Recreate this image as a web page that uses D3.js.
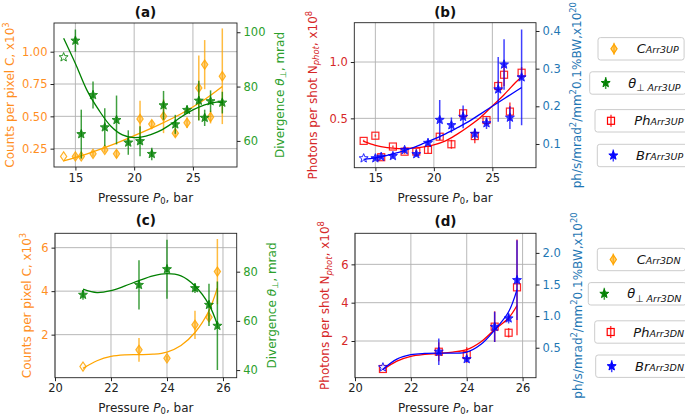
<!DOCTYPE html>
<html><head><meta charset="utf-8">
<script src="https://cdn.jsdelivr.net/npm/d3@7"></script>
<style>body{margin:0;background:#fff} svg{display:block;font-family:"DejaVu Sans",sans-serif}</style>
</head><body><svg id="c" width="685" height="416"></svg>
<script>
// ---------------- DATA ----------------
// Panel (a): Arr3UP, counts (left) and divergence (right)
const aOrangeX = [14, 15, 15.5, 16.5, 17.5, 18.5, 20.5, 21.5, 22.5, 23.5, 24.5, 25.5, 26, 26.5, 27.5];
const aOrangeY = [0.19, 0.19, 0.19, 0.21, 0.24, 0.21, 0.48, 0.44, 0.50, 0.37, 0.45, 0.72, 0.90, 0.495, 0.81];
const aOrangeE = [0.015, 0.015, 0.015, 0.02, 0.02, 0.03, 0.14, 0.03, 0.13, 0.03, 0.04, 0.25, 0.19, 0.05, 0.37];
const aGreenX = [14, 15, 15.5, 16.5, 17.5, 18.5, 19.5, 20.5, 21.5, 22.5, 23.5, 24.5, 25.5, 26, 26.5, 27.5];
const aGreenY = [90.8, 96.9, 62.5, 76.9, 65.0, 67.7, 59.4, 59.9, 55.2, 73.1, 66.1, 71.4, 74.8, 68.5, 74.6, 74.1];
const aGreenE = [0, 4.1, 9, 5, 7, 9, 4.5, 5.5, 2.3, 5.3, 3.5, 1.5, 7.3, 3, 4, 4];
const aFitOrangeX = [14, 16, 18, 20, 22, 24, 26, 27.5];
const aFitOrangeY = [0.155, 0.21, 0.275, 0.35, 0.43, 0.52, 0.63, 0.73];
const aFitGreenX = [14, 15, 16, 17, 18, 19, 20, 21, 22, 23, 24, 25, 26, 27, 27.5];
const aFitGreenY = [97.8, 88.5, 78.5, 71.3, 65.5, 62.2, 61.2, 61.8, 63.3, 65.8, 68.8, 71.4, 73.3, 74.3, 74.2];

// Panel (b): Arr3UP, photons (left) and brilliance (right)
const bX = [14, 15, 15.5, 16.5, 17.5, 18.5, 19.5, 20.5, 21.5, 22.5, 23.5, 24.5, 25.5, 26, 26.5, 27.5];
const bRedY = [0.30, 0.346, 0.155, 0.25, 0.204, 0.205, 0.22, 0.337, 0.27, 0.545, 0.343, 0.485, 0.787, 0.887, 0.56, 0.905];
const bRedE = [0.01, 0.01, 0.01, 0.01, 0.02, 0.02, 0.03, 0.03, 0.04, 0.03, 0.065, 0.02, 0.05, 0.1, 0.08, 0.05];
const bBlueY = [0.062, 0.062, 0.066, 0.068, 0.084, 0.073, 0.103, 0.164, 0.150, 0.172, 0.127, 0.155, 0.245, 0.311, 0.170, 0.277];
const bBlueE = [0, 0.003, 0.004, 0.004, 0.006, 0.006, 0.006, 0.053, 0.02, 0.03, 0.015, 0.015, 0.086, 0.067, 0.03, 0.127];
const bFitX = [14, 15, 16, 17, 18, 19, 20, 21, 22, 23, 24, 25, 26, 27, 27.5];
const bFitRedY = [0.295, 0.26, 0.24, 0.232, 0.235, 0.245, 0.265, 0.30, 0.36, 0.43, 0.51, 0.61, 0.71, 0.82, 0.87];
const bFitBlueY = [0.059, 0.063, 0.07, 0.078, 0.088, 0.1, 0.113, 0.127, 0.143, 0.16, 0.18, 0.2, 0.22, 0.24, 0.25];

// Panel (c): Arr3DN, counts (left) and divergence (right)
const cdX = [21, 23, 24, 25, 25.5, 25.8];
const cOrangeY = [0.53, 1.30, 0.915, 2.45, 2.8, 4.9];
const cOrangeE = [0.05, 0.55, 0.1, 0.65, 0.12, 1.5];
const cGreenY = [70.6, 74.6, 81.0, 73.3, 66.5, 58.0];
const cGreenE = [2, 10, 12, 2, 8.6, 18];
const cdFitX = [21, 21.5, 22, 22.5, 23, 23.5, 24, 24.5, 25, 25.5, 25.8];
const cFitOrangeY = [0.45, 0.8, 1.0, 1.07, 1.08, 1.1, 1.2, 1.5, 2.1, 3.1, 4.15];
const cFitGreenY = [72.9, 71.5, 72.3, 74.2, 76.4, 78.3, 79.2, 78.3, 74.2, 66.6, 58.4];

// Panel (d): Arr3DN, photons (left) and brilliance (right)
const dRedY = [0.54, 1.44, 1.27, 2.75, 2.43, 4.8];
const dRedE = [0.05, 0.5, 0.4, 0.8, 0.25, 2.5];
const dBlueY = [0.19, 0.437, 0.32, 0.83, 0.964, 1.57];
const dBlueE = [0.03, 0.21, 0.05, 0.24, 0.08, 0.63];
const dFitRedY = [0.5, 0.95, 1.2, 1.3, 1.35, 1.42, 1.55, 1.95, 2.6, 3.2, 3.85];
const dFitBlueY = [0.16, 0.32, 0.39, 0.41, 0.415, 0.415, 0.43, 0.55, 0.78, 1.07, 1.42];

// Tick values / labels
const xTicksTop = [15, 20, 25];
const xTicksBot = [20, 22, 24, 26];
const aLeftTicks = [0.25, 0.5, 0.75, 1.0];
const aLeftLabels = ["0.25", "0.50", "0.75", "1.00"];
const aRightTicks = [60, 80, 100];
const bLeftTicks = [0.5, 1.0];
const bLeftLabels = ["0.5", "1.0"];
const bRightTicks = [0.1, 0.2, 0.3, 0.4];
const cLeftTicks = [2, 4, 6];
const cRightTicks = [40, 60, 80];
const dLeftTicks = [2, 4, 6];
const dRightTicks = [0.5, 1.0, 1.5, 2.0];
const dRightLabels = ["0.5", "1.0", "1.5", "2.0"];

const legendTop = ["Arr3UP", "Arr3UP", "Arr3UP", "Arr3UP"];
const legendBot = ["Arr3DN", "Arr3DN", "Arr3DN", "Arr3DN"];

// ---------------- STYLE ----------------
const ORANGE = "#ffa500", GREEN = "#008000", RED = "#ff0000", BLUE = "#0000ff";
const L_OR = "#ff8f1f", L_GR = "#2ca02c", L_RD = "#d62728", L_BL = "#1f77b4";
const FS = 11.5;
const svg = d3.select("#c");

function rich(text, parts, fs) {
  let shift = 0;
  parts.forEach(p => {
    const ts = text.append("tspan").text(p.t);
    const target = p.sub ? fs * 0.22 : (p.sup ? -fs * 0.42 : 0);
    if (target - shift !== 0) ts.attr("dy", target - shift);
    shift = target;
    if (p.sub || p.sup) ts.attr("font-size", fs * 0.7);
    if (p.it) ts.attr("font-style", "italic");
  });
}

function starPath(r) {
  const ri = r * 0.42; let d = "";
  for (let i = 0; i < 10; i++) {
    const rr = i % 2 ? ri : r;
    const a = -Math.PI / 2 + i * Math.PI / 5;
    d += (i ? "L" : "M") + (rr * Math.cos(a)).toFixed(2) + "," + (rr * Math.sin(a)).toFixed(2);
  }
  return d + "Z";
}
function marker(g, type, color, cx, cy, hollow) {
  if (type === "star") {
    g.append("path").attr("d", starPath(4.7)).attr("transform", `translate(${cx},${cy})`)
      .attr("fill", hollow ? "#fff" : color).attr("stroke", color).attr("stroke-width", 1).attr("fill-opacity", hollow ? 1 : 0.95);
  } else if (type === "diamond") {
    g.append("path").attr("d", "M0,-4.6L3.1,0L0,4.6L-3.1,0Z").attr("transform", `translate(${cx},${cy})`)
      .attr("fill", hollow ? "#fff" : color).attr("fill-opacity", hollow ? 1 : 0.55).attr("stroke", color).attr("stroke-width", 1.2);
  } else if (type === "square") {
    g.append("rect").attr("x", cx - 3.5).attr("y", cy - 3.5).attr("width", 7).attr("height", 7)
      .attr("fill", "none").attr("stroke", color).attr("stroke-width", 1.2);
  }
}

function series(g, x, y, xs, ys, es, type, color, firstHollow, fitX, fitY) {
  const eg = g.append("g").attr("stroke", color).attr("stroke-width", 1.5).attr("stroke-opacity", 0.75);
  xs.forEach((v, i) => {
    if (es[i] > 0) eg.append("line").attr("x1", x(v)).attr("x2", x(v)).attr("y1", y(ys[i] - es[i])).attr("y2", y(ys[i] + es[i]));
  });
  const mg = g.append("g").attr("opacity", 0.85);
  xs.forEach((v, i) => marker(mg, type, color, x(v), y(ys[i]), firstHollow && i === 0));
  const line = d3.line().x(d => x(d[0])).y(d => y(d[1])).curve(d3.curveCatmullRom.alpha(0.5));
  g.append("path").attr("d", line(fitX.map((v, i) => [v, fitY[i]]))).attr("fill", "none")
    .attr("stroke", color).attr("stroke-width", 1.3);
}

function panel(cfg) {
  const g = svg.append("g");
  const x = d3.scaleLinear().domain(cfg.xd).range([cfg.l, cfg.r]);
  const yL = d3.scaleLinear().domain(cfg.yLd).range([cfg.b, cfg.t]);
  const yR = d3.scaleLinear().domain(cfg.yRd).range([cfg.b, cfg.t]);
  const clipId = "clip" + cfg.id;
  g.append("clipPath").attr("id", clipId).append("rect")
    .attr("x", cfg.l).attr("y", cfg.t).attr("width", cfg.r - cfg.l).attr("height", cfg.b - cfg.t);
  const grid = g.append("g").attr("stroke", "#b0b0b0").attr("stroke-width", 0.9);
  cfg.xTicks.forEach(v => grid.append("line").attr("x1", x(v)).attr("x2", x(v)).attr("y1", cfg.t).attr("y2", cfg.b));
  cfg.yLTicks.forEach(v => grid.append("line").attr("y1", yL(v)).attr("y2", yL(v)).attr("x1", cfg.l).attr("x2", cfg.r));
  const pg = g.append("g").attr("clip-path", `url(#${clipId})`);
  cfg.draw(pg, x, yL, yR);
  g.append("rect").attr("x", cfg.l).attr("y", cfg.t).attr("width", cfg.r - cfg.l).attr("height", cfg.b - cfg.t)
    .attr("fill", "none").attr("stroke", "#222").attr("stroke-width", 0.9);

  const ax = g.append("g").attr("transform", `translate(0,${cfg.b})`)
    .call(d3.axisBottom(x).tickValues(cfg.xTicks).tickFormat(d3.format("d")).tickSize(3.5).tickPadding(3));
  const al = g.append("g").attr("transform", `translate(${cfg.l},0)`)
    .call(d3.axisLeft(yL).tickValues(cfg.yLTicks).tickFormat((d, i) => cfg.yLLabels[i]).tickSize(3.5).tickPadding(3));
  const ar = g.append("g").attr("transform", `translate(${cfg.r},0)`)
    .call(d3.axisRight(yR).tickValues(cfg.yRTicks).tickFormat((d, i) => cfg.yRLabels[i]).tickSize(3.5).tickPadding(3));
  [ax, al, ar].forEach(a => { a.select(".domain").remove(); a.selectAll("text").attr("font-size", FS).attr("font-family", "DejaVu Sans"); a.selectAll("line").attr("stroke", "#222"); });
  ax.selectAll("text").attr("fill", "#222");
  al.selectAll("text").attr("fill", cfg.lColor);
  ar.selectAll("text").attr("fill", cfg.rColor);

  // title
  g.append("text").attr("x", (cfg.l + cfg.r) / 2).attr("y", cfg.titleY).attr("text-anchor", "middle")
    .attr("font-size", 13.5).attr("font-weight", "bold").attr("fill", "#111").text(cfg.title);
  // x label
  const xl = g.append("text").attr("x", (cfg.l + cfg.r) / 2).attr("y", cfg.xLabelY).attr("text-anchor", "middle")
    .attr("font-size", 12).attr("fill", "#222");
  rich(xl, [{ t: "Pressure " }, { t: "P", it: true }, { t: "0", sub: true }, { t: ", bar" }], 12);
  // y labels
  const cy = (cfg.t + cfg.b) / 2;
  const yl = g.append("text").attr("transform", `translate(${cfg.lLabX},${cy}) rotate(-90)`).attr("text-anchor", "middle")
    .attr("dy", "0.35em").attr("font-size", 12).attr("fill", cfg.lColor);
  rich(yl, cfg.lLabel, 12);
  const yr = g.append("text").attr("transform", `translate(${cfg.rLabX},${cy}) rotate(-90)`).attr("text-anchor", "middle")
    .attr("dy", "0.35em").attr("font-size", 12).attr("fill", cfg.rColor);
  rich(yr, cfg.rLabel, 12);
}

const countsLabel = [{ t: "Counts per pixel C, x10" }, { t: "3", sup: true }];
const divLabel = [{ t: "Divergence " }, { t: "θ", it: true }, { t: "⊥", sub: true }, { t: ", mrad" }];
const photLabel = [{ t: "Photons per shot N" }, { t: "phot", sub: true, it: true }, { t: ", x10" }, { t: "8", sup: true }];
const brLabel = [{ t: "ph/s/mrad" }, { t: "2", sup: true }, { t: "/mm" }, { t: "2", sup: true }, { t: "0.1%BW,x10" }, { t: "20", sup: true }];

panel({
  id: "a", title: "(a)", titleY: 16.5, xLabelY: 201.5,
  l: 54, r: 237, t: 23, b: 167,
  xd: [13.18, 28.75], yLd: [0.108, 1.222], yRd: [50.4, 103.4],
  xTicks: xTicksTop, yLTicks: aLeftTicks, yLLabels: aLeftLabels, yRTicks: aRightTicks, yRLabels: aRightTicks.map(String),
  lColor: L_OR, rColor: L_GR, lLabel: countsLabel, rLabel: divLabel, lLabX: 10, rLabX: 279.5,
  draw: (g, x, yL, yR) => {
    series(g, x, yL, aOrangeX, aOrangeY, aOrangeE, "diamond", ORANGE, true, aFitOrangeX, aFitOrangeY);
    series(g, x, yR, aGreenX, aGreenY, aGreenE, "star", GREEN, true, aFitGreenX, aFitGreenY);
  }
});
panel({
  id: "b", title: "(b)", titleY: 16.5, xLabelY: 201.5,
  l: 354.3, r: 536, t: 22.7, b: 167.7,
  xd: [13.2, 28.73], yLd: [0.062, 1.349], yRd: [0.037, 0.422],
  xTicks: xTicksTop, yLTicks: bLeftTicks, yLLabels: bLeftLabels, yRTicks: bRightTicks, yRLabels: bRightTicks.map(String),
  lColor: L_RD, rColor: L_BL, lLabel: photLabel, rLabel: brLabel, lLabX: 312.5, rLabX: 577,
  draw: (g, x, yL, yR) => {
    series(g, x, yL, bX, bRedY, bRedE, "square", RED, false, bFitX, bFitRedY);
    series(g, x, yR, bX, bBlueY, bBlueE, "star", BLUE, true, bFitX, bFitBlueY);
  }
});
panel({
  id: "c", title: "(c)", titleY: 224.5, xLabelY: 411.5,
  l: 55, r: 236.7, t: 233.3, b: 377.7,
  xd: [20, 26.49], yLd: [0.02, 6.66], yRd: [36.9, 95.6],
  xTicks: xTicksBot, yLTicks: cLeftTicks, yLLabels: cLeftTicks.map(String), yRTicks: cRightTicks, yRLabels: cRightTicks.map(String),
  lColor: L_OR, rColor: L_GR, lLabel: countsLabel, rLabel: divLabel, lLabX: 27, rLabX: 271.5,
  draw: (g, x, yL, yR) => {
    series(g, x, yL, cdX, cOrangeY, cOrangeE, "diamond", ORANGE, true, cdFitX, cFitOrangeY);
    series(g, x, yR, cdX, cGreenY, cGreenE, "star", GREEN, false, cdFitX, cFitGreenY);
  }
});
panel({
  id: "d", title: "(d)", titleY: 226, xLabelY: 411.5,
  l: 355, r: 536, t: 233.3, b: 377.7,
  xd: [20, 26.48], yLd: [0.085, 7.62], yRd: [0.026, 2.31],
  xTicks: xTicksBot, yLTicks: dLeftTicks, yLLabels: dLeftTicks.map(String), yRTicks: dRightTicks, yRLabels: dRightLabels,
  lColor: L_RD, rColor: L_BL, lLabel: photLabel, rLabel: brLabel, lLabX: 324.7, rLabX: 578,
  draw: (g, x, yL, yR) => {
    series(g, x, yL, cdX, dRedY, dRedE, "square", RED, false, cdFitX, dFitRedY);
    series(g, x, yR, cdX, dBlueY, dBlueE, "star", BLUE, true, cdFitX, dFitBlueY);
  }
});

// ---------------- LEGENDS ----------------
function legendEntry(cy, mx, tx, type, color, mainParts, sub) {
  const g = svg.append("g");
  const box = g.append("rect");
  g.append("line").attr("x1", mx).attr("x2", mx).attr("y1", cy - 6).attr("y2", cy + 6)
    .attr("stroke", color).attr("stroke-width", 1.5).attr("stroke-opacity", 0.75);
  marker(g, type, color, mx, cy, false);
  const t = g.append("text").attr("x", tx).attr("y", cy + 4.5).attr("font-size", 13).attr("fill", "#111");
  mainParts.forEach(p => t.append("tspan").text(p.t).attr("font-style", p.it ? "italic" : null));
  t.append("tspan").text(sub.pre || "").attr("dy", 3.5).attr("font-size", 9.5);
  t.append("tspan").text(sub.t).attr("font-size", 9.5).attr("font-style", "italic");
  const bb = t.node().getBBox();
  box.attr("x", mx - 16).attr("y", cy - 11.2).attr("width", bb.x + bb.width + 5 - (mx - 16)).attr("height", 22.4)
    .attr("rx", 2.5).attr("fill", "#fff").attr("stroke", "#cccccc").attr("stroke-width", 1);
}
function legend(centers, mxs, txs, labels) {
  legendEntry(centers[0], mxs[0], txs[0], "diamond", ORANGE, [{ t: "C", it: true }], { t: labels[0] });
  legendEntry(centers[1], mxs[1], txs[1], "star", GREEN, [{ t: "θ", it: true }], { pre: "⊥ ", t: labels[1] });
  legendEntry(centers[2], mxs[2], txs[2], "square", RED, [{ t: "Ph", it: true }], { t: labels[2] });
  legendEntry(centers[3], mxs[3], txs[3], "star", BLUE, [{ t: "Br", it: true }], { t: labels[3] });
}
legend([48.8, 83, 120.8, 155.5], [614, 605.7, 611, 613.3], [636.7, 628.3, 634.3, 636], legendTop);
legend([259.5, 293.8, 332, 366.2], [613.3, 604.3, 610.7, 611.7], [636.7, 627.3, 633.3, 635], legendBot);
</script></body></html>
